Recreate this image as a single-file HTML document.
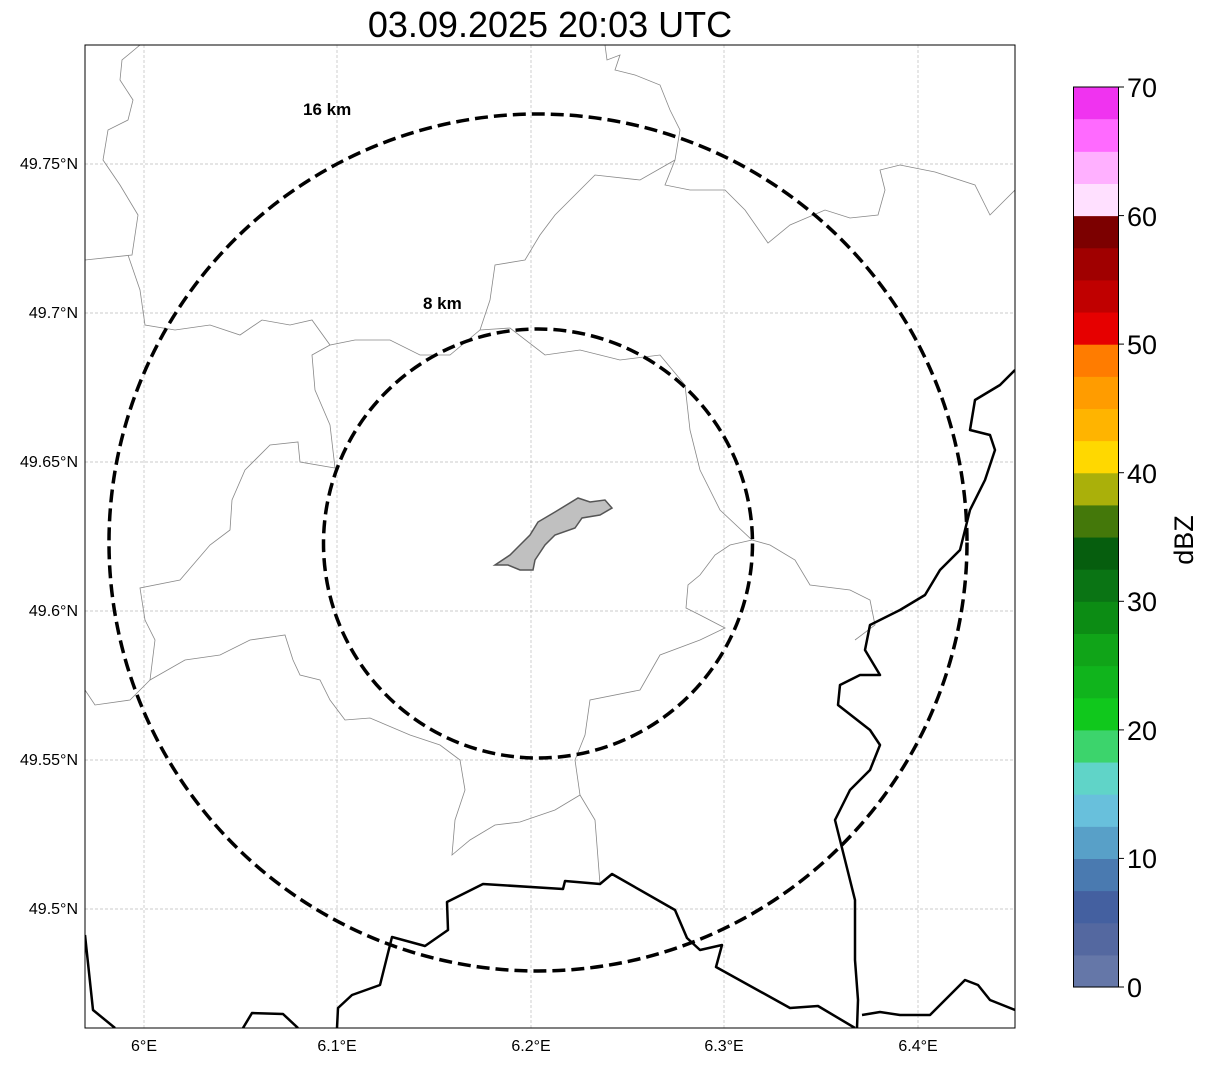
<!DOCTYPE html>
<html><head><style>
body{margin:0;background:#fff;width:1207px;height:1064px;overflow:hidden;font-family:"Liberation Sans",sans-serif}
</style></head><body>
<svg width="1207" height="1064" xmlns="http://www.w3.org/2000/svg" font-family="Liberation Sans, sans-serif">
<text x="550" y="37" font-size="36" text-anchor="middle">03.09.2025 20:03 UTC</text>
<defs><clipPath id="c"><rect x="85" y="45" width="930" height="983"/></clipPath></defs>
<g clip-path="url(#c)">
<g stroke="#bbb" stroke-width="0.7" stroke-dasharray="3,2">
<line x1="144" y1="45" x2="144" y2="1028"/><line x1="337" y1="45" x2="337" y2="1028"/><line x1="531" y1="45" x2="531" y2="1028"/><line x1="724" y1="45" x2="724" y2="1028"/><line x1="918" y1="45" x2="918" y2="1028"/>
<line x1="85" y1="164" x2="1015" y2="164"/><line x1="85" y1="313" x2="1015" y2="313"/><line x1="85" y1="462" x2="1015" y2="462"/><line x1="85" y1="611" x2="1015" y2="611"/><line x1="85" y1="760" x2="1015" y2="760"/><line x1="85" y1="909" x2="1015" y2="909"/>
</g>
<g fill="none" stroke="#888" stroke-width="0.8">
<path d="M140,45 L122,60 L120,80 L133,100 L128,120 L108,130 L103,160 L120,185 L138,215 L132,255 L85,260"/>
<path d="M128,255 L140,290 L145,325 L175,330 L210,325 L240,335 L262,320 L290,325 L312,320 L330,345 L355,340 L390,340 L420,355 L450,355 L480,330 L510,328 L545,355 L580,350 L620,360 L660,355 L685,385 L690,430 L700,470 L720,510 L752,540 L770,545 L795,560 L810,585 L850,590 L870,600 L875,625 L855,640"/>
<path d="M330,345 L312,355 L315,390 L330,425 L335,468 L300,462 L298,442 L270,445 L245,470 L232,500 L230,530 L210,545 L180,580 L140,588 L145,620 L155,640 L150,680 L130,700 L95,705 L85,690"/>
<path d="M150,680 L185,660 L220,655 L250,640 L285,635 L293,660 L300,675 L320,680 L330,700 L345,720 L370,718 L410,735 L440,745 L460,760 L465,790 L455,820 L452,855 L470,840 L495,825 L520,822 L555,810 L580,795 L575,760 L585,735 L590,700 L640,690 L660,655 L700,640 L725,628 L700,615 L686,608 L688,585 L700,575 L715,555 L730,545 L752,540"/>
<path d="M580,795 L595,820 L600,884"/>
<path d="M605,45 L607,60 L620,55 L615,70 L635,75 L660,85 L670,110 L680,130 L675,160 L665,185 L690,190 L725,190 L745,210 L768,243 L790,225 L825,210 L850,218 L878,215 L885,190 L880,170 L900,165 L935,172 L975,185 L990,215 L1005,200 L1015,190"/>
<path d="M675,160 L640,180 L595,175 L575,195 L555,215 L540,235 L525,260 L495,265 L490,300 L480,330"/>
</g>
<path d="M495,565 L510,555 L520,545 L530,535 L538,522 L555,512 L578,498 L590,502 L605,500 L612,508 L600,515 L582,518 L575,528 L555,535 L545,545 L535,560 L533,570 L520,570 L508,565 Z" fill="#c0c0c0" stroke="#555" stroke-width="1.5"/>
<g fill="none" stroke="#000" stroke-width="2.5" stroke-linejoin="round">
<path d="M85,935 L93,1010 L115,1028"/>
<path d="M243,1028 L252,1013 L283,1014 L298,1028"/>
<path d="M337,1028 L338,1008 L352,995 L380,985 L392,937 L425,946 L448,930 L447,902 L483,884 L563,889 L565,881 L600,884 L612,874 L675,910 L687,938 L700,950 L722,945 L716,967 L790,1008 L818,1006 L855,1028"/>
<path d="M1015,370 L1000,385 L975,400 L970,430 L990,435 L995,450 L985,480 L970,510 L960,550 L940,570 L925,595 L900,610 L870,625 L865,650 L880,675 L860,675 L840,685 L838,705 L870,730 L880,745 L870,770 L850,790 L835,820 L845,860 L855,900 L855,960 L858,1000 L857,1028"/>
<path d="M862,1015 L880,1012 L900,1015 L930,1015 L950,995 L965,980 L978,985 L990,1000 L1015,1010"/>
</g>
<g fill="none" stroke="#000" stroke-width="3.5" stroke-dasharray="13,6">
<ellipse cx="538" cy="542.5" rx="429" ry="428.5"/>
<ellipse cx="538" cy="543.5" rx="214.5" ry="214.5"/>
</g>
</g>
<text x="303" y="115" font-size="17" font-weight="bold">16 km</text>
<text x="423" y="309" font-size="17" font-weight="bold">8 km</text>
<rect x="85" y="45" width="930" height="983" fill="none" stroke="#000" stroke-width="1"/>
<g font-size="16" text-anchor="end">
<text x="78" y="169">49.75°N</text><text x="78" y="318">49.7°N</text><text x="78" y="467">49.65°N</text><text x="78" y="616">49.6°N</text><text x="78" y="765">49.55°N</text><text x="78" y="914">49.5°N</text>
</g>
<g font-size="16" text-anchor="middle">
<text x="144" y="1051">6°E</text><text x="337" y="1051">6.1°E</text><text x="531" y="1051">6.2°E</text><text x="724" y="1051">6.3°E</text><text x="918" y="1051">6.4°E</text>
</g>
<g>
<rect x="1073.5" y="954.86" width="45" height="32.7" fill="#6577a8"/>
<rect x="1073.5" y="922.71" width="45" height="32.7" fill="#5468a0"/>
<rect x="1073.5" y="890.57" width="45" height="32.7" fill="#4460a0"/>
<rect x="1073.5" y="858.43" width="45" height="32.7" fill="#4a7ab0"/>
<rect x="1073.5" y="826.29" width="45" height="32.7" fill="#58a0c8"/>
<rect x="1073.5" y="794.14" width="45" height="32.7" fill="#68c0dc"/>
<rect x="1073.5" y="762.0" width="45" height="32.7" fill="#60d4c8"/>
<rect x="1073.5" y="729.86" width="45" height="32.7" fill="#3cd46c"/>
<rect x="1073.5" y="697.71" width="45" height="32.7" fill="#10c81c"/>
<rect x="1073.5" y="665.57" width="45" height="32.7" fill="#10b41c"/>
<rect x="1073.5" y="633.43" width="45" height="32.7" fill="#10a418"/>
<rect x="1073.5" y="601.29" width="45" height="32.7" fill="#0c8c14"/>
<rect x="1073.5" y="569.14" width="45" height="32.7" fill="#0a7414"/>
<rect x="1073.5" y="537.0" width="45" height="32.7" fill="#065e0e"/>
<rect x="1073.5" y="504.86" width="45" height="32.7" fill="#44780a"/>
<rect x="1073.5" y="472.71" width="45" height="32.7" fill="#aab00a"/>
<rect x="1073.5" y="440.57" width="45" height="32.7" fill="#ffd800"/>
<rect x="1073.5" y="408.43" width="45" height="32.7" fill="#ffb400"/>
<rect x="1073.5" y="376.29" width="45" height="32.7" fill="#ff9c00"/>
<rect x="1073.5" y="344.14" width="45" height="32.7" fill="#ff7c00"/>
<rect x="1073.5" y="312.0" width="45" height="32.7" fill="#e60000"/>
<rect x="1073.5" y="279.86" width="45" height="32.7" fill="#c00000"/>
<rect x="1073.5" y="247.71" width="45" height="32.7" fill="#a00000"/>
<rect x="1073.5" y="215.57" width="45" height="32.7" fill="#7c0000"/>
<rect x="1073.5" y="183.43" width="45" height="32.7" fill="#ffe0ff"/>
<rect x="1073.5" y="151.29" width="45" height="32.7" fill="#ffb0ff"/>
<rect x="1073.5" y="119.14" width="45" height="32.7" fill="#ff6aff"/>
<rect x="1073.5" y="87.0" width="45" height="32.3" fill="#f033f0"/>
</g>
<rect x="1073.5" y="87" width="45" height="900" fill="none" stroke="#000" stroke-width="1"/>
<g stroke="#000" stroke-width="1">
<line x1="1118" y1="87" x2="1124" y2="87"/><line x1="1118" y1="215.6" x2="1124" y2="215.6"/><line x1="1118" y1="344.1" x2="1124" y2="344.1"/><line x1="1118" y1="472.7" x2="1124" y2="472.7"/><line x1="1118" y1="601.3" x2="1124" y2="601.3"/><line x1="1118" y1="729.9" x2="1124" y2="729.9"/><line x1="1118" y1="858.4" x2="1124" y2="858.4"/><line x1="1118" y1="987" x2="1124" y2="987"/>
</g>
<g font-size="27">
<text x="1127" y="97">70</text><text x="1127" y="226">60</text><text x="1127" y="354">50</text><text x="1127" y="483">40</text><text x="1127" y="611">30</text><text x="1127" y="740">20</text><text x="1127" y="868">10</text><text x="1127" y="997">0</text>
</g>
<text transform="translate(1193,540) rotate(-90)" font-size="27" text-anchor="middle">dBZ</text>
</svg>
</body></html>
